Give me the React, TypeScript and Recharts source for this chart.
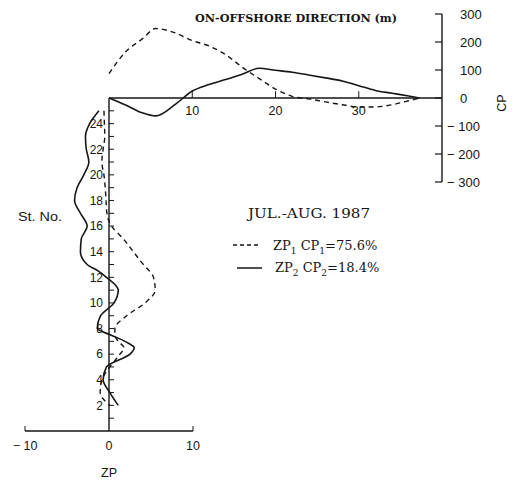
import React from 'react';
import { LineChart, Line, XAxis, YAxis, ReferenceLine, ReferenceDot } from 'recharts';

const INK = '#161616';
const W = 523;
const H = 484;
const SANS = '"Liberation Sans", Arial, sans-serif';
const SERIF = '"DejaVu Serif", serif';

// on-offshore distance (m) and the CP eigenfunctions
const distance = [0, 2, 4, 5.6, 8, 10, 12, 14, 16, 18, 20, 22, 24, 26, 28, 30, 32, 34, 36, 37.3];
const cp1 = [87, 165, 211, 248, 232, 205, 186, 155, 110, 70, 32, 6, -3, -14, -24, -32, -32, -24, -10, 0];
const cp2 = [0, -25, -53, -64, -22, 25, 48, 66, 85, 106, 99, 92, 82, 72, 61, 44, 27, 17, 7, 0];
const cpTicks = [-300, -200, -100, 0, 100, 200, 300];
const distanceTicks = [10, 20, 30];

// station number and the ZP eigenfunctions
const stations = [25, 24, 23, 22, 21, 20, 19, 18, 17, 16, 15, 14, 13, 12.5, 12, 11, 10, 9, 8, 7.5, 7, 6.5, 6, 5, 4, 3, 2];
const zp1 = [-0.6, -0.55, -0.5, -0.7, -0.85, -0.6, -0.45, -0.35, -0.25, 0.3, 1.7, 2.9, 4.1, 4.8, 5.3, 5.5, 4.3, 2.1, 0.7, 0.7, 1.1, 1.8, 1.3, 0.1, -0.85, -1.05, 0.1];
const zp2 = [-1.2, -2.3, -2.8, -2.7, -2.4, -3.0, -3.8, -4.1, -3.4, -2.6, -3.3, -3.4, -2.6, -1.3, -0.3, 1.1, 0.6, -1.0, -1.4, 0.2, 1.9, 3.0, 2.5, -0.3, -0.7, 0.1, 1.1];
const stationTicks = [1, 2, 3, 4, 5, 6, 7, 8, 9, 10, 11, 12, 13, 14, 15, 16, 17, 18, 19, 20, 21, 22, 23, 24, 25];
const zpTicks = [-10, 0, 10];

const cpRows = distance.map((d, i) => ({ d, cp1: cp1[i], cp2: cp2[i] }));
const zpRows = stations.map((st, i) => ({ st, zp1: zp1[i], zp2: zp2[i] }));

const fmt = (v: number) => (v < 0 ? '\u2212 ' + Math.abs(v) : String(v));

const CpTick = ({ x, y, payload }: any) => (
  <g>
    <line x1={x - 7} x2={x} y1={y} y2={y} stroke={INK} strokeWidth={1.2} />
    <text x={payload.value < 0 ? x + 5 : x + 18} y={y + 4.6} fontSize={13} fontFamily={SANS} fill={INK}>
      {fmt(payload.value)}
    </text>
  </g>
);

const StationTick = ({ x, y, payload }: any) => (
  <g>
    <line x1={x} x2={x + 5} y1={y} y2={y} stroke={INK} strokeWidth={1} />
    {payload.value % 2 === 0 && (
      <text x={x - 6} y={y + 4.3} textAnchor="end" fontSize={12} fontFamily={SANS} fill={INK}>
        {payload.value}
      </text>
    )}
  </g>
);

const ZpTick = ({ x, y, payload }: any) => (
  <g>
    {payload.value !== 0 && <line x1={x} x2={x} y1={y} y2={y - 5} stroke={INK} strokeWidth={1} />}
    <text x={x} y={y + 18.5} textAnchor="middle" fontSize={12.5} fontFamily={SANS} fill={INK}>
      {fmt(payload.value)}
    </text>
  </g>
);

const abs = { position: 'absolute' as const, left: 0, top: 0 };

export default function App() {
  return (
    <div style={{ ...abs, width: W, height: H, background: '#fff', overflow: 'hidden' }}>
      {/* CP against on-offshore distance */}
      <div style={abs}>
        <LineChart width={W} height={200} data={cpRows} margin={{ top: 14, right: 21, bottom: 18, left: 109 }}>
          <XAxis type="number" dataKey="d" domain={[0, 40]} hide />
          <YAxis
            orientation="right"
            type="number"
            domain={[-300, 300]}
            ticks={cpTicks}
            interval={0}
            width={60}
            tickSize={0}
            tickMargin={0}
            tickLine={false}
            axisLine={{ stroke: INK, strokeWidth: 1.4 }}
            tick={<CpTick />}
          />
          <ReferenceLine y={0} stroke={INK} strokeWidth={1.3} />
          {distanceTicks.map((t) => (
            <ReferenceLine key={'l' + t} segment={[{ x: t, y: 0 }, { x: t, y: 24 }]} stroke={INK} strokeWidth={1} />
          ))}
          {distanceTicks.map((t) => (
            <ReferenceDot
              key={'d' + t}
              x={t}
              y={0}
              r={0}
              fill="none"
              stroke="none"
              label={{ value: String(t), position: 'bottom', offset: 8, fontSize: 12.5, fill: INK, fontFamily: SANS }}
            />
          ))}
          <Line type="monotone" dataKey="cp1" stroke={INK} strokeWidth={1.4} strokeDasharray="5 4" dot={false} isAnimationActive={false} />
          <Line type="monotone" dataKey="cp2" stroke={INK} strokeWidth={1.6} dot={false} isAnimationActive={false} />
        </LineChart>
      </div>

      {/* ZP against station number */}
      <div style={abs}>
        <LineChart layout="vertical" width={W} height={H} data={zpRows} margin={{ top: 98, right: 330, bottom: 23, left: 25 }}>
          <XAxis
            type="number"
            domain={[-10, 10]}
            ticks={zpTicks}
            interval={0}
            height={30}
            tickSize={0}
            tickMargin={0}
            tickLine={false}
            axisLine={{ stroke: INK, strokeWidth: 1.3 }}
            tick={<ZpTick />}
            label={{ value: 'ZP', position: 'bottom', offset: 7, fontSize: 12.5, fill: INK, fontFamily: SANS }}
          />
          <YAxis type="number" dataKey="st" domain={[0, 26]} reversed hide />
          <Line type="monotone" dataKey="zp1" stroke={INK} strokeWidth={1.4} strokeDasharray="5 4" dot={false} isAnimationActive={false} />
          <Line type="monotone" dataKey="zp2" stroke={INK} strokeWidth={1.6} dot={false} isAnimationActive={false} />
        </LineChart>
      </div>

      {/* station axis, drawn at ZP = 0 */}
      <div style={abs}>
        <LineChart layout="vertical" width={W} height={H} data={zpRows} margin={{ top: 98, right: 300, bottom: 53, left: 49 }}>
          <XAxis type="number" domain={[0, 10]} hide />
          <YAxis
            type="number"
            dataKey="st"
            domain={[0, 26]}
            reversed
            ticks={stationTicks}
            interval={0}
            width={60}
            tickSize={0}
            tickMargin={0}
            tickLine={false}
            axisLine={{ stroke: INK, strokeWidth: 1.4 }}
            tick={<StationTick />}
          />
        </LineChart>
      </div>

      <svg width={W} height={H} style={abs}>
        <text x={296} y={21.5} textAnchor="middle" fontSize={11} fontWeight="bold" fontFamily={SERIF} fill={INK} textLength={202} lengthAdjust="spacingAndGlyphs">
          ON-OFFSHORE DIRECTION (m)
        </text>
        <text x={506} y={103} textAnchor="middle" fontSize={12.5} fontFamily={SANS} fill={INK} transform="rotate(-90 506 103)">
          CP
        </text>
        <text x={18} y={221} fontSize={12.5} fontFamily={SANS} fill={INK} textLength={44} lengthAdjust="spacingAndGlyphs">
          St. No.
        </text>
        <text x={248} y={218} fontSize={13.5} fontFamily={SERIF} fill={INK} textLength={122} lengthAdjust="spacingAndGlyphs">
          JUL.-AUG. 1987
        </text>
        <line x1={233} x2={260} y1={245} y2={245} stroke={INK} strokeWidth={1.3} strokeDasharray="4 3" />
        <text x={273} y={250} fontSize={13} fontFamily={SERIF} fill={INK}>
          ZP<tspan fontSize={9} dy={4}>1</tspan>
          <tspan dy={-4}> CP</tspan>
          <tspan fontSize={9} dy={4}>1</tspan>
          <tspan dy={-4}>=75.6%</tspan>
        </text>
        <line x1={237} x2={262} y1={268} y2={268} stroke={INK} strokeWidth={1.5} />
        <text x={275} y={272} fontSize={13} fontFamily={SERIF} fill={INK}>
          ZP<tspan fontSize={9} dy={4}>2</tspan>
          <tspan dy={-4}> CP</tspan>
          <tspan fontSize={9} dy={4}>2</tspan>
          <tspan dy={-4}>=18.4%</tspan>
        </text>
      </svg>
    </div>
  );
}
